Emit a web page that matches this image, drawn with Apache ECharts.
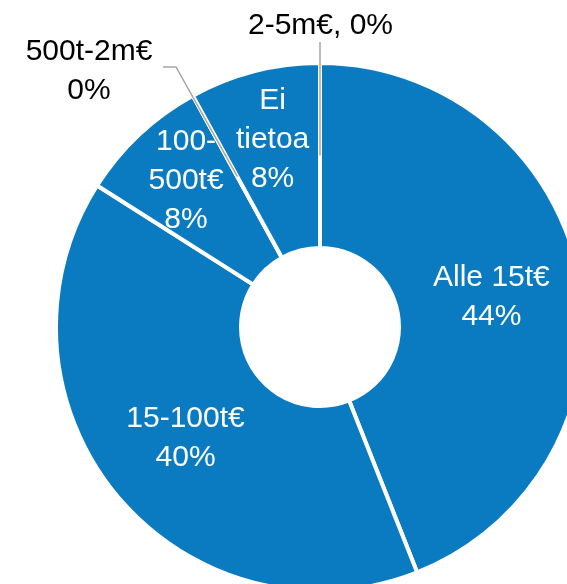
<!DOCTYPE html>
<html>
<head>
<meta charset="utf-8">
<script src="https://cdn.jsdelivr.net/npm/echarts@6/dist/echarts.min.js"></script>
<style>
  html, body { margin: 0; padding: 0; background: #fff; }
  #chart { width: 567px; height: 584px; }
</style>
</head>
<body>
<div id="chart"></div>
<script>
// yritysten liikevaihtoluokat, osuus vastaajista (%)
const categories = ['Alle 15t€', '15-100t€', '100-500t€', '500t-2m€', 'Ei tietoa', '2-5m€']
const shares = [44, 40, 8, 0, 8, 0]

// rivitys kuten alkuperäisessä kuvassa
const wrapped = {
  '100-500t€': '100-\n500t€',
  'Ei tietoa': 'Ei\ntietoa'
}
const outsideLabels = ['500t-2m€', '2-5m€']

const cx = 320
const cy = 327
const rInner = 79
const rOuter = 264
const rMid = (rInner + rOuter) / 2
const blue = '#0a7bc1'
const lineGray = '#a6a6a6'

const chart = echarts.init(document.getElementById('chart'))

const labelFont = {
  fontFamily: 'Liberation Sans, Arial, sans-serif',
  fontSize: 30,
  lineHeight: 39,
  formatter: (p) => {
    const text = wrapped[p.name] || p.name
    const sep = p.name === '2-5m€' ? ', ' : '\n'
    return text + sep + Math.round(p.percent) + '%'
  }
}

// mid-ring point on the sector's direction (Excel starts leader lines there)
const midPoint = (p) => {
  const dx = p[0] - cx
  const dy = p[1] - cy
  const len = Math.sqrt(dx * dx + dy * dy) || 1
  return [cx + dx / len * rMid, cy + dy / len * rMid]
}

// renkaat + sisäiset tekstit
const ringData = categories.map((name, i) => ({
  name: name,
  value: shares[i],
  label: { show: !outsideLabels.includes(name) }
}))

// sama data päällä läpinäkyvänä, vain 0 %:n luokkien tekstit ja viivat
const leaderData = categories.map((name, i) => ({
  name: name,
  value: shares[i],
  label: { show: outsideLabels.includes(name) },
  labelLine: { show: outsideLabels.includes(name) }
}))

const option = {
  animation: false,
  series: [
    {
      type: 'pie',
      z: 2,
      center: [cx, cy],
      radius: [rInner, rOuter],
      startAngle: 90,
      clockwise: true,
      avoidLabelOverlap: false,
      data: ringData,
      itemStyle: {
        color: blue,
        borderColor: '#fff',
        borderWidth: 4
      },
      label: Object.assign({ position: 'inside', color: '#fff' }, labelFont),
      labelLine: { show: false },
      emphasis: { disabled: true },
      labelLayout: (params) => {
        const name = categories[params.dataIndex]
        if (name === 'Alle 15t€') return { dx: 0, dy: 3 }
        if (name === '100-500t€') return { dx: -14.5, dy: -19 }
        if (name === 'Ei tietoa') return { dx: -4, dy: -18 }
        return {}
      }
    },
    {
      type: 'pie',
      z: 5,
      silent: true,
      center: [cx, cy],
      radius: [rInner, rOuter],
      startAngle: 90,
      clockwise: true,
      avoidLabelOverlap: false,
      data: leaderData,
      itemStyle: {
        color: 'rgba(0,0,0,0)',
        borderWidth: 0
      },
      label: Object.assign({ position: 'outside', color: '#000' }, labelFont),
      labelLine: {
        showAbove: true,
        maxSurfaceAngle: 180,
        lineStyle: { color: lineGray, width: 1.5 }
      },
      emphasis: { disabled: true },
      labelLayout: (params) => {
        const name = categories[params.dataIndex]
        if (!params.labelLinePoints) return {}
        const m = midPoint(params.labelLinePoints[0])
        if (name === '2-5m€') {
          return {
            x: m[0] + 0.5,
            y: 26,
            align: 'center',
            verticalAlign: 'middle',
            labelLinePoints: [m, [m[0], 90], [m[0], 42]]
          }
        }
        if (name === '500t-2m€') {
          return {
            x: 89,
            y: 71.5,
            align: 'center',
            verticalAlign: 'middle',
            labelLinePoints: [m, [176, 67], [163, 67]]
          }
        }
        return {}
      }
    }
  ]
}

chart.setOption(option)
</script>
</body>
</html>
